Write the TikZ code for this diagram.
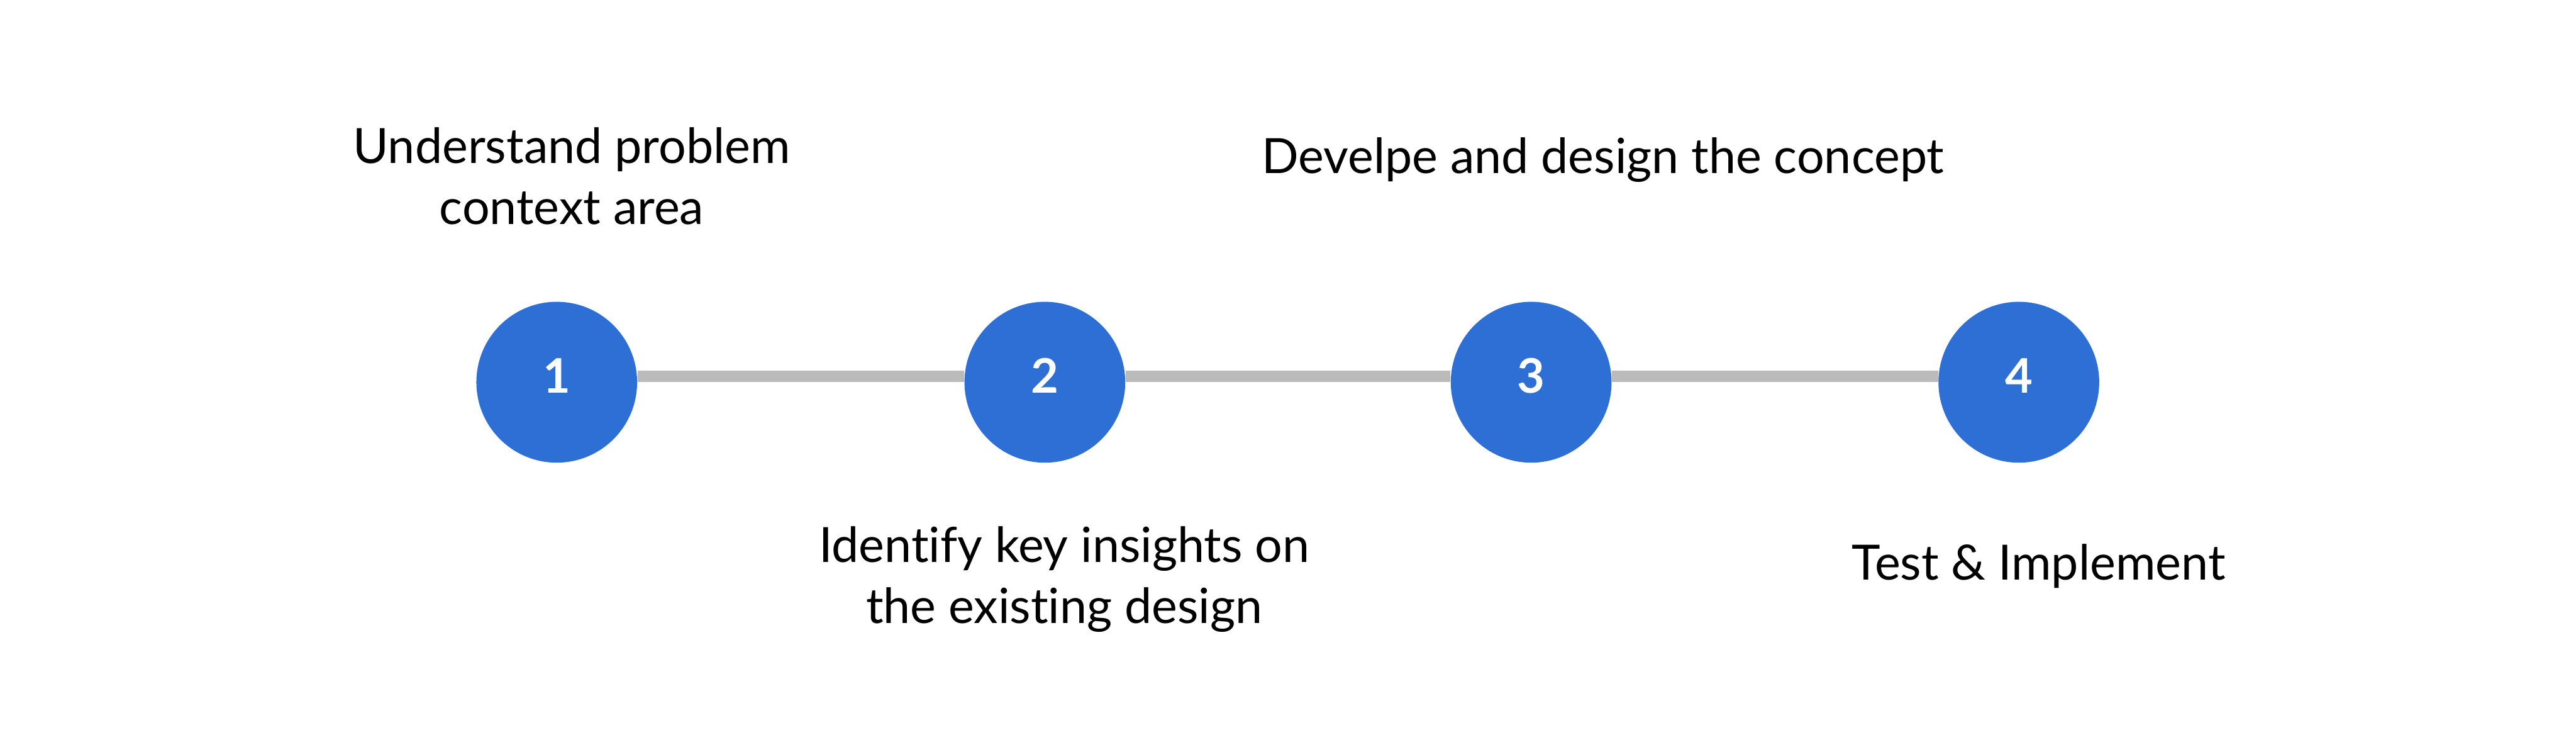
\documentclass[tikz,border=0pt]{standalone}
\usepackage{fontspec}
\setmainfont{Lato}[Ligatures={NoCommon,NoRare}]
\usepackage{tikz}
\usepackage{xcolor}
\definecolor{stepblue}{HTML}{2D6FD4}
\definecolor{trackgray}{HTML}{BBBBBB}

\begin{document}
\begin{tikzpicture}[
  stepdot/.style={circle, fill=stepblue, minimum size=3.56cm, inner sep=0pt,
    text=white, text height=0.73cm, text depth=0.26cm,
    font={\fontsize{30pt}{36pt}\selectfont\bfseries}},
  track/.style={draw=trackgray, line width=0.24cm},
  caption/.style={align=center, anchor=base, text=black,
    font={\fontsize{30.6pt}{38.4pt}\selectfont}}]
  \useasboundingbox (0,0) rectangle (57.05,-16.64);
  \node[stepdot] (s1) at (12.33,-8.46) {1};
  \node[stepdot] (s2) at (23.14,-8.46) {2};
  \node[stepdot] (s3) at (33.91,-8.46) {3};
  \node[stepdot] (s4) at (44.71,-8.46) {4};
  \foreach \a/\b in {s1/s2,s2/s3,s3/s4}
    \draw[track] ([yshift=0.13cm]\a.east) -- ([yshift=0.13cm]\b.west);
  \node[caption] (t1) at (12.66,-4.96) {Understand problem\\context area};
  \node[caption] (t2) at (23.57,-13.79) {Identify key insights on\\the existing design};
  \node[caption] (t3) at (35.50,-3.84) {Develpe and design the concept};
  \node[caption] (t4) at (45.15,-12.83) {Test \& Implement};
\end{tikzpicture}
\end{document}
